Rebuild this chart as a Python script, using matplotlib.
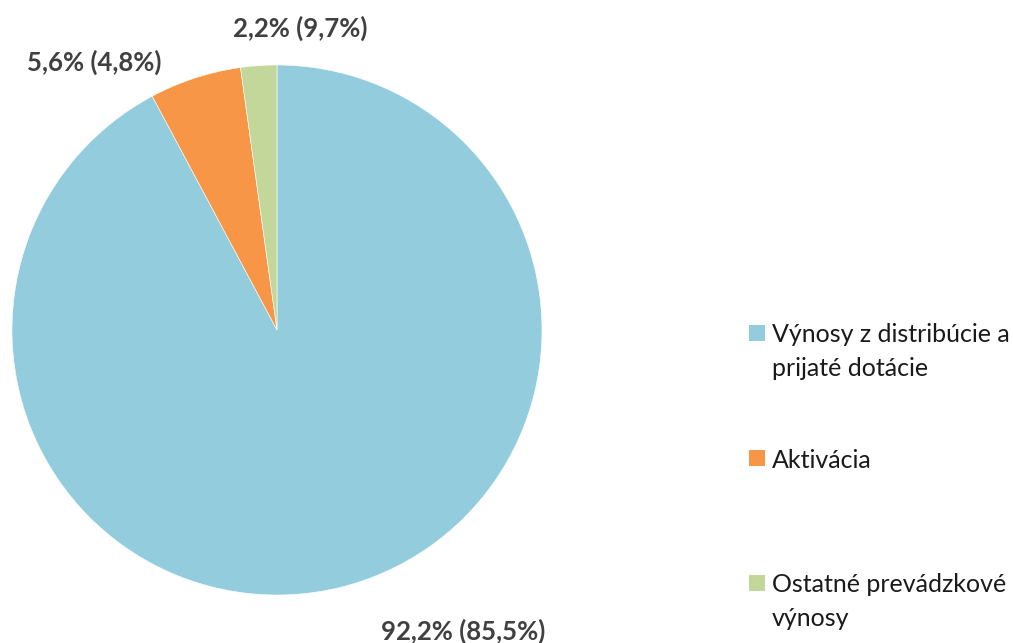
"""
Pie chart of operating revenue shares (current year, previous year in brackets)
"""

import matplotlib.pyplot as plt
from matplotlib.patches import Rectangle

# Data
categories = ['Výnosy z distribúcie a\nprijaté dotácie', 'Aktivácia', 'Ostatné prevádzkové\nvýnosy']
shares = [92.2, 5.6, 2.2]
shares_prev = [85.5, 4.8, 9.7]
colors = ['#93CDDD', '#F79646', '#C4D79B']

plt.rcParams['font.family'] = ['Lato', 'DejaVu Sans']

W, H = 1013, 643
fig = plt.figure(figsize=(W / 100, H / 100), dpi=100)

# Pie axes: center (277, 330) px, radius 265 px
cx, cy, r = 277, 330, 265
ax = fig.add_axes([(cx - r) / W, (H - cy - r) / H, 2 * r / W, 2 * r / H])
ax.pie(shares, colors=colors, startangle=90, counterclock=False,
       wedgeprops=dict(edgecolor='white', linewidth=0.4))
ax.set_xlim(-1, 1)
ax.set_ylim(-1, 1)
ax.set_aspect('equal')
ax.axis('off')

# Data labels (pixel positions of label centers)
label_pos = [(463, 629), (94, 60), (300, 26)]
for val, prev, (px, py) in zip(shares, shares_prev, label_pos):
    txt = f'{val:.1f}% ({prev:.1f}%)'.replace('.', ',')
    fig.text(px / W, 1 - py / H, txt, ha='center', va='center_baseline',
             fontsize=18.5, fontweight='bold', color='#404040')

# Legend drawn by hand to keep the uneven spacing
legend_y = [333, 458, 583]
sq = 16
line_h = 34
for cat, col, ly in zip(categories, colors, legend_y):
    fig.patches.append(Rectangle((749 / W, 1 - (ly + sq / 2) / H), sq / W, sq / H,
                                 transform=fig.transFigure, facecolor=col,
                                 edgecolor='none'))
    for i, line in enumerate(cat.split('\n')):
        fig.text(772 / W, 1 - (ly + i * line_h) / H, line, ha='left',
                 va='center_baseline', fontsize=18, color='#1A1A1A')

plt.savefig('out.png', dpi=100)
